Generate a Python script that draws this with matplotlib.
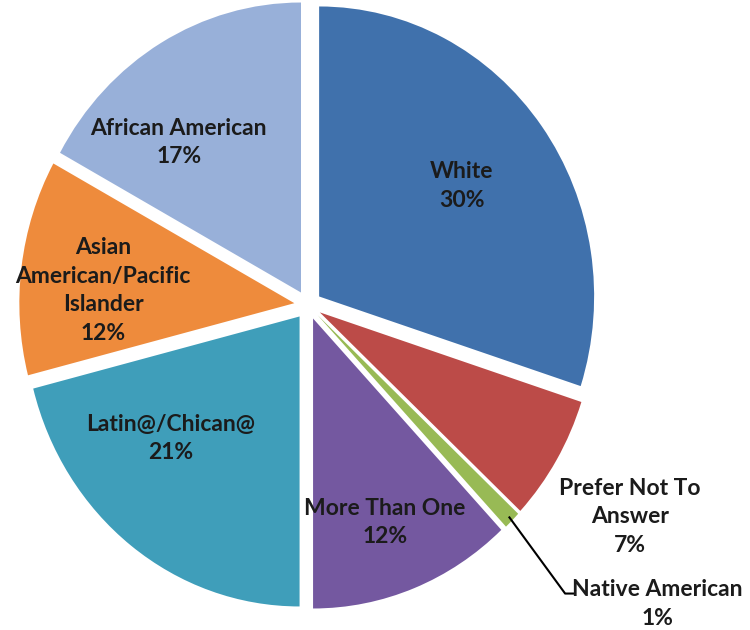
import matplotlib
matplotlib.use('Agg')
import matplotlib.pyplot as plt
import numpy as np

labels = ['White', 'Prefer Not To\nAnswer', 'Native American', 'More Than One',
          'Latin@/Chican@', 'Asian\nAmerican/Pacific\nIslander', 'African American']
values = [30, 7, 1, 12, 21, 12, 17]
colors = ['#4071AC', '#BC4B48', '#98BA55', '#7458A0', '#3F9EBA', '#EE8B3C', '#98B0D9']

# label centres in axes data units (pie radius = 1)
label_pos = [(0.56, 0.41), (1.17, -0.73), (1.27, -1.03), (0.28, -0.75),
             (-0.50, -0.46), (-0.745, 0.05), (-0.47, 0.56)]

plt.rcParams['font.family'] = ['Lato', 'DejaVu Sans']

fig = plt.figure(figsize=(7.5, 6.3), dpi=100)
ax = fig.add_axes([0, 0, 1, 1])

wedges, _ = ax.pie(values, colors=colors, startangle=90, counterclock=False,
                   explode=[0.05] * len(values),
                   wedgeprops={'linewidth': 0, 'clip_on': False})

# pie is slightly squashed horizontally in the original
ax.set_aspect('auto')
ax.set_xlim(-308 / 275, 442 / 275)
ax.set_ylim(-325 / 290, 305 / 290)
ax.axis('off')

for i, (lab, v) in enumerate(zip(labels, values)):
    x, y = label_pos[i]
    ax.text(x, y, lab + '\n' + str(v) + '%', ha='center', va='center',
            fontsize=16.5, fontweight='bold', color='#1b1b1b', linespacing=1.45,
            clip_on=False)

# leader line for the tiny slice
w = wedges[2]
mid = np.deg2rad((w.theta1 + w.theta2) / 2)
x0 = w.center[0] + np.cos(mid)
y0 = w.center[1] + np.sin(mid)
ax.plot([x0 - 0.01, 0.935, 0.965], [y0 + 0.01, -0.995, -0.995], color='black', lw=1.5,
        clip_on=False)

fig.savefig('out.png', dpi=100)
